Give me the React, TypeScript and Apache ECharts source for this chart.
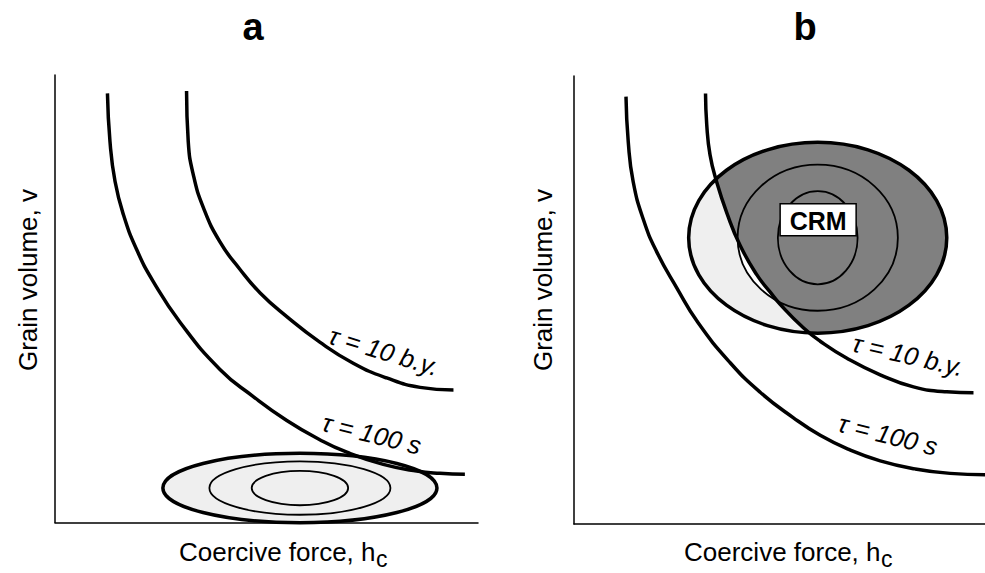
import { useEffect, useRef } from "react";
import * as echarts from "echarts";

const FONT = '"Liberation Sans", Arial, Helvetica, sans-serif';

// ---- texts ----
const panelTitles = ["a", "b"];
const xAxisTitle = "Coercive force, h";
const xAxisSubscript = "c";
const yAxisTitle = "Grain volume, v";
const curveNames = ["τ = 100 s", "τ = 10 b.y."];
const crmLabel = "CRM";

// ---- panel a (coercive force x, grain volume y, relative units 0–100) ----
const a100sX = [12.4, 13.0, 14.2, 16.2, 19.3, 23.2, 29.6, 39.0, 46.8, 54.8, 62.6, 69.0, 77.6, 85.5, 91.0, 96.9];
const a100sY = [95.9, 85.1, 76.2, 68.7, 61.0, 53.9, 44.7, 34.2, 28.2, 22.8, 18.5, 15.7, 13.0, 11.5, 11.0, 10.8];
const a10byX = [31.1, 31.5, 32.7, 35.1, 39.0, 43.7, 48.5, 54.8, 62.6, 70.5, 78.4, 86.3, 94.2];
const a10byY = [96.4, 85.1, 77.7, 70.3, 62.7, 56.6, 51.3, 46.0, 40.3, 35.6, 32.3, 30.2, 29.6];
const aContourCenter = [57.9, 7.7];
const aContourRx = [32.4, 21.4, 11.4];
const aContourRy = [7.75, 5.97, 3.84];

// ---- panel b ----
const b100sX = [12.65, 13.2, 14.4, 16.9, 20.1, 25.0, 30.2, 38.0, 45.3, 53.4, 59.9, 66.7, 74.5, 83.0, 91.5, 100];
const b100sY = [95.4, 85.3, 76.4, 67.9, 60.8, 52.7, 44.9, 36.0, 29.4, 23.7, 19.8, 16.7, 14.1, 12.3, 11.3, 11.0];
const b10byX = [32.0, 32.3, 33.1, 34.7, 37.2, 40.4, 44.5, 47.7, 50.1, 55.8, 59.9, 66.4, 74.5, 82.6, 90.7, 97.2];
const b10byY = [96.1, 89.1, 82.4, 76.4, 69.4, 62.2, 55.6, 51.8, 49.1, 43.8, 40.8, 37.0, 33.3, 30.6, 29.5, 29.3];
const bContourCenter = [59.3, 63.9];
const bContourRx = [31.4, 19.5, 9.7];
const bContourRy = [21.3, 16.3, 10.4];

const pairs = (xs: number[], ys: number[]) => xs.map((x, i) => [x, ys[i]]);

function curveYAt(xs: number[], ys: number[], x: number): number {
  if (x < xs[0]) return Infinity;
  for (let i = 0; i < xs.length - 1; i++) {
    if (x >= xs[i] && x <= xs[i + 1]) {
      const t = (x - xs[i]) / (xs[i + 1] - xs[i]);
      return ys[i] + t * (ys[i + 1] - ys[i]);
    }
  }
  return ys[ys.length - 1];
}

function textWidth(text: string, font: string): number {
  const ctx = document.createElement("canvas").getContext("2d");
  if (!ctx) return text.length * 12;
  ctx.font = font;
  return ctx.measureText(text).width;
}

function buildOption(): any {
  const axisCommon = {
    type: "value",
    min: 0,
    max: 100,
    axisLine: { show: true, onZero: false, lineStyle: { color: "#000", width: 1.5 } },
    axisTick: { show: false },
    axisLabel: { show: false },
    splitLine: { show: false },
  };

  const ellipseSeries = (
    gi: number,
    center: number[],
    rxs: number[],
    rys: number[],
    styleFor: (i: number) => any,
    z: number,
    count?: number
  ) => ({
    type: "custom",
    xAxisIndex: gi,
    yAxisIndex: gi,
    z,
    silent: true,
    data: rxs.slice(0, count ?? rxs.length).map((r, i) => [center[0], center[1], r, rys[i]]),
    renderItem: (params: any, api: any) => {
      const c = api.coord([api.value(0), api.value(1)]);
      const s = api.size([api.value(2), api.value(3)]);
      return {
        type: "ellipse",
        shape: { cx: c[0], cy: c[1], rx: s[0], ry: s[1] },
        style: styleFor(params.dataIndex),
      };
    },
  });

  const lineSeries = (gi: number, name: string, xs: number[], ys: number[]) => ({
    type: "line",
    name,
    xAxisIndex: gi,
    yAxisIndex: gi,
    data: pairs(xs, ys),
    symbol: "none",
    smooth: 0.5,
    z: 4,
    silent: true,
    lineStyle: { color: "#000", width: 3.5 },
  });

  const labelSeries = (gi: number, items: any[]) => ({
    type: "custom",
    xAxisIndex: gi,
    yAxisIndex: gi,
    z: 5,
    silent: true,
    data: items,
    renderItem: (params: any, api: any) => {
      const c = api.coord([api.value(0), api.value(1)]);
      const item = items[params.dataIndex];
      return {
        type: "text",
        x: c[0],
        y: c[1],
        rotation: (item[2] * Math.PI) / 180,
        style: {
          text: curveNames[item[3]],
          font: `italic 25.5px ${FONT}`,
          fill: "#000",
          align: "center",
          verticalAlign: "middle",
          textAlign: "center",
          textVerticalAlign: "middle",
        },
      };
    },
  });

  const darkRegion = {
    type: "custom",
    xAxisIndex: 1,
    yAxisIndex: 1,
    z: 2,
    silent: true,
    data: [[bContourCenter[0], bContourCenter[1]]],
    renderItem: (params: any, api: any) => {
      const [cx, cy] = bContourCenter;
      const rx = bContourRx[0];
      const ry = bContourRy[0];
      const upper: number[][] = [];
      const lower: number[][] = [];
      const N = 400;
      for (let i = 0; i <= N; i++) {
        const x = cx - rx + (2 * rx * i) / N;
        const t = (x - cx) / rx;
        const h = ry * Math.sqrt(Math.max(0, 1 - t * t));
        const top = cy + h;
        const bot = cy - h;
        const lo = Math.max(bot, curveYAt(b10byX, b10byY, x));
        if (lo < top) {
          upper.push([x, top]);
          lower.push([x, lo]);
        }
      }
      const pts = upper.concat(lower.reverse()).map((p) => api.coord(p));
      return { type: "polygon", shape: { points: pts }, style: { fill: "#808080" } };
    },
  };

  const crmSeries = {
    type: "custom",
    xAxisIndex: 1,
    yAxisIndex: 1,
    z: 6,
    silent: true,
    data: [[59.4, 67.9]],
    renderItem: (params: any, api: any) => {
      const c = api.coord([api.value(0), api.value(1)]);
      return {
        type: "group",
        children: [
          {
            type: "rect",
            shape: { x: c[0] - 38, y: c[1] - 16, width: 76, height: 32 },
            style: { fill: "#fff", stroke: "#000", lineWidth: 1.5 },
          },
          {
            type: "text",
            x: c[0],
            y: c[1] + 1,
            style: {
              text: crmLabel,
              font: `bold 25px ${FONT}`,
              fill: "#000",
              align: "center",
              verticalAlign: "middle",
              textAlign: "center",
              textVerticalAlign: "middle",
            },
          },
        ],
      };
    },
  };

  const labelFont = `26px ${FONT}`;
  const subFont = `23px ${FONT}`;
  const mainW = textWidth(xAxisTitle, labelFont);
  const txt = (x: number, y: number, text: string, font: string, align = "center", rotation = 0) => ({
    type: "text",
    x,
    y,
    rotation,
    silent: true,
    style: {
      text,
      font,
      fill: "#000",
      align,
      verticalAlign: "middle",
      textAlign: align,
      textVerticalAlign: "middle",
    },
  });

  const xLabelStarts = [179, 684];
  const yLabelX = [28, 543];
  const titleX = [253, 805];

  const graphics: any[] = [];
  [0, 1].forEach((p) => {
    graphics.push(txt(titleX[p], 27, panelTitles[p], `bold 38px ${FONT}`));
    graphics.push(txt(xLabelStarts[p], 552, xAxisTitle, labelFont, "left"));
    graphics.push(txt(xLabelStarts[p] + mainW + 0.5, 559, xAxisSubscript, subFont, "left"));
    graphics.push(txt(yLabelX[p], 280, yAxisTitle, labelFont, "center", Math.PI / 2));
  });

  return {
    animation: false,
    backgroundColor: "#fff",
    grid: [
      { left: 55, top: 75, width: 423, height: 447.5 },
      { left: 574, top: 76, width: 411, height: 448 },
    ],
    xAxis: [
      { ...axisCommon, gridIndex: 0 },
      { ...axisCommon, gridIndex: 1 },
    ],
    yAxis: [
      { ...axisCommon, gridIndex: 0 },
      { ...axisCommon, gridIndex: 1 },
    ],
    graphic: graphics,
    series: [
      // panel a contours
      ellipseSeries(
        0,
        aContourCenter,
        aContourRx,
        aContourRy,
        (i) =>
          i === 0
            ? { fill: "#efefef", stroke: "#000", lineWidth: 3.5 }
            : { fill: "none", stroke: "#000", lineWidth: 1.8 },
        2
      ),
      lineSeries(0, curveNames[0], a100sX, a100sY),
      lineSeries(0, curveNames[1], a10byX, a10byY),
      labelSeries(0, [
        [77.8, 38.3, -17, 1],
        [74.9, 19.8, -14, 0],
      ]),
      // panel b contours
      ellipseSeries(
        1,
        bContourCenter,
        bContourRx,
        bContourRy,
        (i) => (i === 0 ? { fill: "#efefef", stroke: "none" } : { fill: "#fff", stroke: "none" }),
        1,
        2
      ),
      darkRegion,
      ellipseSeries(
        1,
        bContourCenter,
        bContourRx,
        bContourRy,
        (i) => ({ fill: "none", stroke: "#000", lineWidth: i === 0 ? 3.5 : 1.8 }),
        3
      ),
      lineSeries(1, curveNames[0], b100sX, b100sY),
      lineSeries(1, curveNames[1], b10byX, b10byY),
      labelSeries(1, [
        [81.3, 37.7, -13, 1],
        [76.4, 19.9, -14, 0],
      ]),
      crmSeries,
    ],
  };
}

export default function App() {
  const ref = useRef<HTMLDivElement>(null);
  useEffect(() => {
    const el = ref.current;
    if (!el) return;
    const chart = echarts.init(el, null, { renderer: "svg" });
    chart.setOption(buildOption());
    return () => chart.dispose();
  }, []);
  return (
    <div
      ref={ref}
      style={{ position: "absolute", left: 0, top: 0, width: 985, height: 573, background: "#fff" }}
    />
  );
}
